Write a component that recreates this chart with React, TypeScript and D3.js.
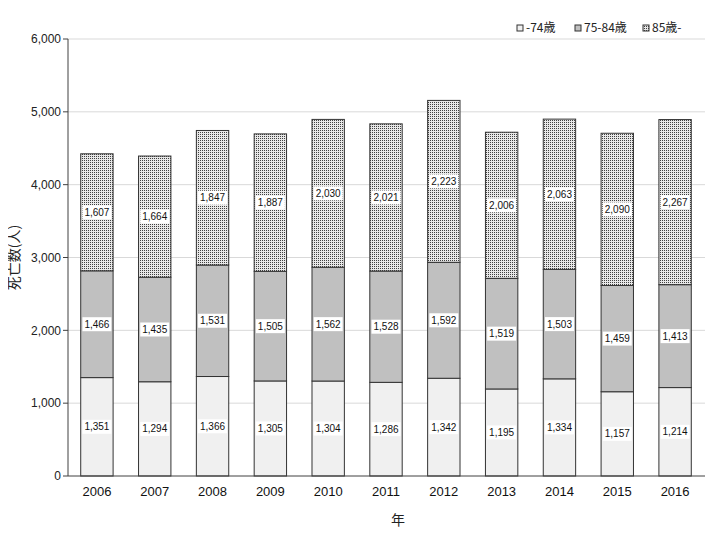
import React from "react";
import * as d3 from "d3";

const years = ["2006","2007","2008","2009","2010","2011","2012","2013","2014","2015","2016"];
const under74 = [1351,1294,1366,1305,1304,1286,1342,1195,1334,1157,1214];
const age75to84 = [1466,1435,1531,1505,1562,1528,1592,1519,1503,1459,1413];
const over85 = [1607,1664,1847,1887,2030,2021,2223,2006,2063,2090,2267];
const seriesNames = ["-74歳","75-84歳","85歳-"];
const yTicks = [0,1000,2000,3000,4000,5000,6000];

const W = 720, H = 540;
const M = { left: 68, right: 16, top: 39, bottom: 64 };
const FONT = "'Liberation Sans', Arial, sans-serif";

export default function App() {
  const x = d3.scaleBand<string>().domain(years).range([M.left, M.left + 636]).paddingInner(0.44).paddingOuter(0.22);
  const y = d3.scaleLinear().domain([0, 6000]).range([H - M.bottom, M.top]);
  const fmt = d3.format(",");
  const rows = years.map((yr, i) => ({ yr, vals: [under74[i], age75to84[i], over85[i]] }));
  const fills = ["#f0f0f0", "#c0c0c0", "url(#dots)"];
  const right = M.left + 637;

  return (
    <div style={{ margin: -8 }}>
      <svg width={W} height={H} style={{ display: "block", background: "#fff" }} fontFamily={FONT}>
        <defs>
          <pattern id="dots" width="2" height="2" patternUnits="userSpaceOnUse">
            <rect width="2" height="2" fill="#e8e8e8" />
            <rect width="1" height="1" fill="#404040" />
          </pattern>
        </defs>
        {yTicks.map(t => (
          <g key={t}>
            {t > 0 && <line x1={M.left} x2={right} y1={y(t)} y2={y(t)} stroke="#d9d9d9" strokeWidth={1} />}
            <line x1={M.left - 5} x2={M.left} y1={y(t)} y2={y(t)} stroke="#404040" />
            <text x={M.left - 7} y={y(t)} dy="0.35em" textAnchor="end" fontSize={12} fill="#222">{fmt(t)}</text>
          </g>
        ))}
        {rows.map(r => {
          let acc = 0;
          const segs = r.vals.map((v, k) => {
            const y0 = acc; acc += v;
            return { k, v, y0, y1: acc };
          });
          const bx = x(r.yr)!;
          const bw = x.bandwidth();
          return (
            <g key={r.yr}>
              {segs.map(s => (
                <rect key={s.k} x={bx} width={bw} y={y(s.y1)} height={y(s.y0) - y(s.y1)} fill={fills[s.k]} stroke="#333" strokeWidth={1} />
              ))}
              {segs.map(s => {
                const cy = (y(s.y0) + y(s.y1)) / 2;
                const label = fmt(s.v);
                const tw = label.length * 5.4 + 2;
                return (
                  <g key={"l" + s.k}>
                    <rect x={bx + bw / 2 - tw / 2} y={cy - 7} width={tw} height={14} fill="#fff" />
                    <text x={bx + bw / 2} y={cy} dy="0.35em" textAnchor="middle" fontSize={10} fill="#111">{label}</text>
                  </g>
                );
              })}
              <text x={bx + bw / 2} y={H - M.bottom + 20} textAnchor="middle" fontSize={13} fill="#111">{r.yr}</text>
            </g>
          );
        })}
        <line x1={M.left} x2={M.left} y1={M.top} y2={H - M.bottom} stroke="#404040" />
        <line x1={M.left} x2={right} y1={H - M.bottom} y2={H - M.bottom} stroke="#404040" />
        <text transform={`translate(14,${(M.top + H - M.bottom) / 2}) rotate(-90)`} textAnchor="middle" dy="0.35em" fontSize={14} fill="#222" fontFamily="'Noto Sans CJK JP', sans-serif">死亡数(人)</text>
        <text x={398} y={525} textAnchor="middle" fontSize={14} fill="#222" fontFamily="'Noto Sans CJK JP', sans-serif">年</text>
        {seriesNames.map((n, k) => {
          const lx = [517, 575, 643][k];
          return (
            <g key={n}>
              <rect x={lx} y={25} width={6} height={6} fill={fills[k]} stroke="#333" strokeWidth={1} />
              <text x={lx + 9} y={28} dy="0.35em" fontSize={12} fill="#222" fontFamily="'Noto Sans CJK JP', sans-serif">{n}</text>
            </g>
          );
        })}
      </svg>
    </div>
  );
}
